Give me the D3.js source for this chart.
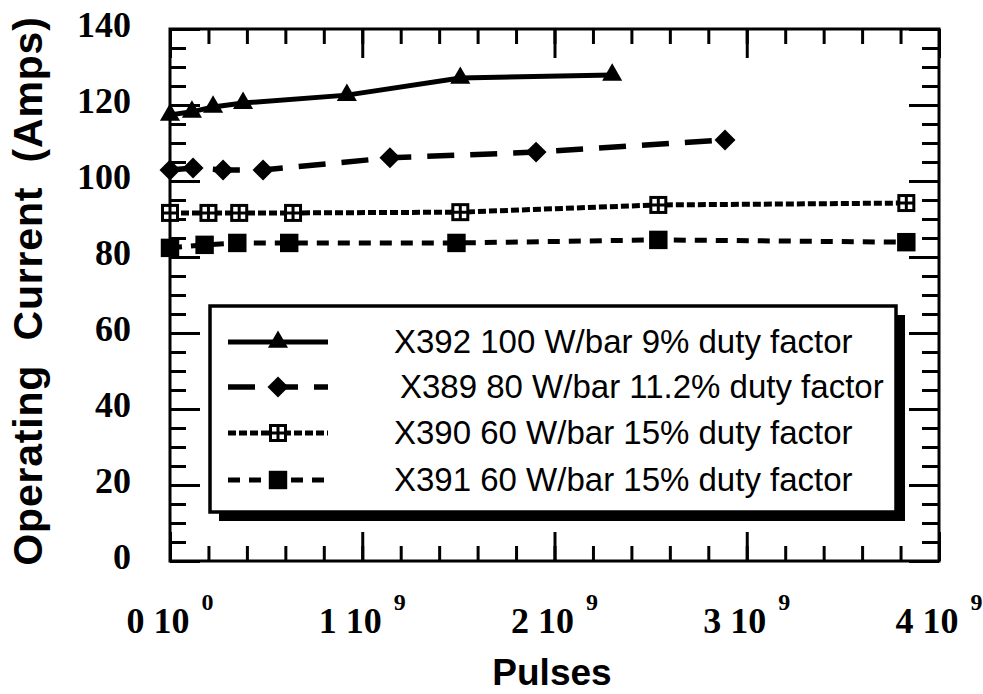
<!DOCTYPE html>
<html>
<head>
<meta charset="utf-8">
<script src="https://cdn.jsdelivr.net/npm/d3@7"></script>
<style>
  body { margin: 0; background: #fff; }
  svg { display: block; }
</style>
</head>
<body>
<svg></svg>
<script>
// values
const seriesNames = [
    'X392 100 W/bar 9% duty factor',
    'X389 80 W/bar 11.2% duty factor',
    'X390 60 W/bar 15% duty factor',
    'X391 60 W/bar 15% duty factor'
];

const x392Pulses = [0, 0.114e9, 0.224e9, 0.38e9, 0.92e9, 1.51e9, 2.30e9];
const x392Amps   = [117.4, 118.2, 119.5, 120.5, 122.6, 127.1, 127.9];

const x389Pulses = [0, 0.12e9, 0.276e9, 0.484e9, 1.144e9, 1.904e9, 2.887e9];
const x389Amps   = [102.9, 103.4, 102.9, 102.9, 106.1, 107.6, 110.8];

const x390Pulses = [0, 0.2e9, 0.36e9, 0.64e9, 1.51e9, 2.54e9, 3.83e9];
const x390Amps   = [91.6, 91.6, 91.6, 91.6, 91.8, 93.7, 94.2];

const x391Pulses = [0, 0.18e9, 0.35e9, 0.62e9, 1.49e9, 2.54e9, 3.83e9];
const x391Amps   = [82.4, 83.2, 83.7, 83.7, 83.7, 84.5, 83.9];

const yTickValues = [0, 20, 40, 60, 80, 100, 120, 140];
const xTickValues = [0, 1e9, 2e9, 3e9, 4e9];
const xTickMantissa = ['0', '1', '2', '3', '4'];
const xTickExponent = ['0', '9', '9', '9', '9'];

const xTitle = 'Pulses';
const yTitle = 'Operating\u00a0\u00a0Current\u00a0\u00a0(Amps)';

// styles
const seriesStyle = [
    { dash: null,    width: 5,   marker: 'triangle' },
    { dash: '27,16', width: 5.5, marker: 'diamond' },
    { dash: '8,3',   width: 5,   marker: 'openSquare' },
    { dash: '12,9',  width: 5,   marker: 'square' }
];

const width = 983;
const height = 694;

const serif = '"Liberation Serif", "Times New Roman", serif';
const sans = '"Liberation Sans", Arial, sans-serif';

let xScale;
let yScale;

let svg = d3.select('svg');

function drawCanvas () {
    svg.attr('width', width);
    svg.attr('height', height);
    svg.append('rect')
        .attr('width', width)
        .attr('height', height)
        .attr('fill', '#fff');
}

function generateScales () {
    xScale = d3.scaleLinear()
                .domain([0, 4e9])
                .range([170, 939]);

    yScale = d3.scaleLinear()
                .domain([0, 140])
                .range([561, 29]);
}

function styleTicks (g) {
    g.select('.domain').remove();
    g.selectAll('.tick line').attr('stroke', '#000').attr('stroke-width', 3);
}

function generateAxes () {
    const xMinor = d3.range(0, 21).map(i => i * 0.2e9);
    const yMinor = d3.range(0, 29).map(i => i * 5);

    const axes = [
        [d3.axisBottom, xScale, xMinor, 15, 'translate(0,' + yScale(0) + ')'],
        [d3.axisBottom, xScale, xTickValues, 29, 'translate(0,' + yScale(0) + ')'],
        [d3.axisTop, xScale, xMinor, 15, 'translate(0,' + yScale(140) + ')'],
        [d3.axisTop, xScale, xTickValues, 29, 'translate(0,' + yScale(140) + ')'],
        [d3.axisLeft, yScale, yMinor, 16, 'translate(' + xScale(0) + ',0)'],
        [d3.axisLeft, yScale, yTickValues, 30, 'translate(' + xScale(0) + ',0)'],
        [d3.axisRight, yScale, yMinor, 17, 'translate(' + xScale(4e9) + ',0)'],
        [d3.axisRight, yScale, yTickValues, 30, 'translate(' + xScale(4e9) + ',0)']
    ];

    axes.forEach(a => {
        svg.append('g')
            .attr('transform', a[4])
            .call(a[0](a[1]).tickValues(a[2]).tickSize(-a[3]).tickFormat(''))
            .call(styleTicks);
    });

    // frame
    svg.append('rect')
        .attr('x', xScale(0))
        .attr('y', yScale(140))
        .attr('width', xScale(4e9) - xScale(0))
        .attr('height', yScale(0) - yScale(140))
        .attr('fill', 'none')
        .attr('stroke', '#000')
        .attr('stroke-width', 3);

    // y tick labels
    let yAxis = d3.axisLeft(yScale).tickValues(yTickValues).tickSize(0).tickPadding(39);
    svg.append('g')
        .attr('id', 'y-axis')
        .attr('transform', 'translate(' + xScale(0) + ',0)')
        .call(yAxis)
        .call(g => g.select('.domain').remove())
        .selectAll('text')
        .attr('y', -4)
        .attr('font-family', serif)
        .attr('font-weight', 'bold')
        .attr('font-size', 36)
        .attr('fill', '#000');

    // x tick labels with superscript exponent
    let xl = svg.append('g').attr('id', 'x-axis')
        .selectAll('text')
        .data(xTickValues)
        .enter()
        .append('text')
        .attr('x', d => xScale(d))
        .attr('y', 633)
        .attr('text-anchor', 'middle')
        .attr('font-family', serif)
        .attr('font-weight', 'bold')
        .attr('font-size', 36);
    xl.append('tspan').text((d, i) => xTickMantissa[i] + ' 10');
    xl.append('tspan')
        .attr('dx', 12)
        .attr('dy', -23)
        .attr('font-size', 24)
        .text((d, i) => xTickExponent[i]);

    svg.append('text')
        .attr('x', 552)
        .attr('y', 685)
        .attr('text-anchor', 'middle')
        .attr('font-family', sans)
        .attr('font-weight', 'bold')
        .attr('font-size', 37)
        .text(xTitle);

    svg.append('text')
        .attr('transform', 'translate(42,291) rotate(-90)')
        .attr('text-anchor', 'middle')
        .attr('font-family', sans)
        .attr('font-weight', 'bold')
        .attr('font-size', 41)
        .attr('letter-spacing', 0.8)
        .text(yTitle);
}

function drawMarker (g, type, x, y) {
    if (type === 'triangle') {
        g.append('path')
            .attr('d', d3.symbol().type(d3.symbolTriangle).size(175)())
            .attr('transform', 'translate(' + x + ',' + y + ')')
            .attr('fill', '#000');
    } else if (type === 'diamond') {
        g.append('path')
            .attr('d', d3.symbol().type(d3.symbolSquare).size(220)())
            .attr('transform', 'translate(' + x + ',' + y + ') rotate(45)')
            .attr('fill', '#000');
    } else if (type === 'square') {
        g.append('path')
            .attr('d', d3.symbol().type(d3.symbolSquare).size(340)())
            .attr('transform', 'translate(' + x + ',' + y + ')')
            .attr('fill', '#000');
    } else {
        g.append('rect')
            .attr('x', x - 7.5).attr('y', y - 7.5)
            .attr('width', 15).attr('height', 15)
            .attr('fill', '#fff')
            .attr('stroke', '#000')
            .attr('stroke-width', 3);
        g.append('path')
            .attr('d', 'M' + (x - 7.5) + ',' + y + 'H' + (x + 7.5) + 'M' + x + ',' + (y - 7.5) + 'V' + (y + 7.5))
            .attr('stroke', '#000')
            .attr('stroke-width', 3);
    }
}

function drawDataPoints () {
    const pulses = [x392Pulses, x389Pulses, x390Pulses, x391Pulses];
    const amps = [x392Amps, x389Amps, x390Amps, x391Amps];

    const line = d3.line()
        .x(d => xScale(d[0]))
        .y(d => yScale(d[1]));

    pulses.forEach((p, s) => {
        const pts = p.map((d, i) => [d, amps[s][i]]);
        const st = seriesStyle[s];
        svg.append('path')
            .datum(pts)
            .attr('d', line)
            .attr('fill', 'none')
            .attr('stroke', '#000')
            .attr('stroke-width', st.width)
            .attr('stroke-dasharray', st.dash);
        let g = svg.append('g');
        pts.forEach(d => drawMarker(g, st.marker, xScale(d[0]), yScale(d[1])));
    });
}

function drawLegend () {
    const lx = 210, ly = 306, lw = 686, lh = 206;
    const rows = [342, 387, 433, 480];
    const textX = [394, 400, 394, 394];

    svg.append('rect')
        .attr('x', lx + 9).attr('y', ly + 9)
        .attr('width', lw).attr('height', lh)
        .attr('fill', '#000');
    svg.append('rect')
        .attr('x', lx).attr('y', ly)
        .attr('width', lw).attr('height', lh)
        .attr('fill', '#fff')
        .attr('stroke', '#000')
        .attr('stroke-width', 3.5);

    seriesNames.forEach((name, i) => {
        const st = seriesStyle[i];
        let g = svg.append('g');
        g.append('line')
            .attr('x1', 228).attr('x2', 328)
            .attr('y1', rows[i]).attr('y2', rows[i])
            .attr('stroke', '#000')
            .attr('stroke-width', st.width)
            .attr('stroke-dasharray', st.dash);
        drawMarker(g, st.marker, 278, rows[i]);
        g.append('text')
            .attr('x', textX[i])
            .attr('y', rows[i] + 11)
            .attr('font-family', sans)
            .attr('font-size', 33)
            .attr('fill', '#000')
            .text(name);
    });
}

drawCanvas();
generateScales();
generateAxes();
drawDataPoints();
drawLegend();
</script>
</body>
</html>
